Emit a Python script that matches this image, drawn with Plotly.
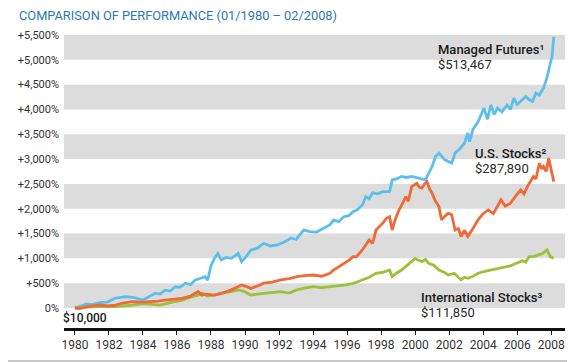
import plotly.graph_objects as go

# ---- data: decimal year, cumulative gain in % ----
mf_years = [1980.0, 1980.4, 1980.7, 1981.0, 1981.45, 1981.9, 1982.4, 1983.0, 1983.5, 1984.0,
            1984.4, 1984.75, 1985.0, 1985.3, 1985.6, 1985.9, 1986.2, 1986.5, 1986.8, 1987.07,
            1987.4, 1987.65, 1987.8, 1988.0, 1988.2, 1988.4, 1988.6, 1988.9, 1989.2, 1989.4,
            1989.6, 1989.8, 1990.1, 1990.35, 1990.7, 1991.1, 1991.5, 1991.9, 1992.3, 1992.7,
            1993.0, 1993.45, 1993.8, 1994.2, 1994.6, 1995.0, 1995.2, 1995.5, 1995.8, 1996.1,
            1996.35, 1996.6, 1996.9, 1997.1, 1997.3, 1997.5, 1997.8, 1998.1, 1998.5, 1998.65,
            1998.9, 1999.2, 1999.5, 1999.8, 2000.2, 2000.6, 2000.8, 2001.0, 2001.2, 2001.4,
            2001.75, 2002.15, 2002.35, 2002.6, 2002.9, 2003.1, 2003.2, 2003.4, 2003.7, 2004.05,
            2004.25, 2004.45, 2004.65, 2004.85, 2005.1, 2005.4, 2005.6, 2005.8, 2006.0, 2006.2,
            2006.5, 2006.7, 2006.9, 2007.1, 2007.3, 2007.55, 2007.75, 2007.95, 2008.05, 2008.15]
mf_values = [0, 40, 80, 70, 107, 120, 200, 228, 210, 160,
             230, 300, 280, 360, 340, 425, 420, 500, 470, 565,
             600, 630, 560, 850, 1000, 1100, 970, 1020, 1000, 1050,
             1100, 935, 1050, 1170, 1200, 1300, 1250, 1270, 1330, 1410,
             1380, 1570, 1540, 1530, 1600, 1680, 1770, 1740, 1840, 1860,
             1940, 1980, 2075, 2245, 2200, 2320, 2300, 2345, 2345, 2580,
             2600, 2650, 2630, 2650, 2615, 2580, 2715, 2850, 3050, 3120,
             2985, 2920, 3120, 3200, 3320, 3525, 3350, 3600, 3750, 4030,
             3800, 4090, 3900, 4030, 3950, 4090, 4000, 4230, 4100, 4160,
             4260, 4200, 4160, 4330, 4290, 4435, 4640, 4940, 5060, 5460]

us_years = [1980.0, 1980.3, 1980.7, 1981.0, 1981.5, 1981.9, 1982.4, 1982.8, 1983.4, 1983.9,
            1984.4, 1984.9, 1985.3, 1985.8, 1986.3, 1986.8, 1987.25, 1987.45, 1987.7, 1988.2,
            1988.7, 1989.2, 1989.8, 1990.1, 1990.35, 1990.7, 1991.1, 1991.6, 1992.1, 1992.6,
            1993.05, 1993.5, 1994.0, 1994.5, 1995.0, 1995.2, 1995.5, 1995.8, 1996.1, 1996.35,
            1996.55, 1996.9, 1997.3, 1997.5, 1997.7, 1998.1, 1998.3, 1998.5, 1998.65, 1998.85,
            1999.05, 1999.25, 1999.45, 1999.6, 1999.8, 2000.1, 2000.25, 2000.4, 2000.55, 2000.7,
            2000.85, 2001.0, 2001.2, 2001.4, 2001.55, 2001.75, 2001.95, 2002.15, 2002.35, 2002.55,
            2002.7, 2002.9, 2003.1, 2003.4, 2003.7, 2004.0, 2004.3, 2004.6, 2004.85, 2005.05,
            2005.3, 2005.6, 2005.9, 2006.2, 2006.4, 2006.6, 2006.95, 2007.1, 2007.3, 2007.45,
            2007.55, 2007.7, 2007.85, 2008.0, 2008.15]
us_values = [0, -10, 27, 40, 60, 40, 60, 100, 127, 120,
             127, 140, 160, 175, 195, 240, 330, 260, 280, 260,
             300, 365, 465, 430, 395, 440, 500, 520, 565, 590,
             630, 650, 665, 640, 700, 765, 830, 900, 960, 1035,
             1035, 1170, 1370, 1300, 1570, 1710, 1800, 1840, 1570, 1800,
             1975, 2100, 2245, 2150, 2445, 2515, 2430, 2415, 2500, 2545,
             2400, 2310, 2150, 2045, 1775, 1850, 1910, 1880, 1570, 1600,
             1440, 1570, 1440, 1600, 1775, 1900, 1975, 1900, 2045, 2180,
             2050, 2110, 2250, 2380, 2300, 2445, 2650, 2600, 2915, 2800,
             2850, 2750, 3020, 2780, 2545]

intl_years = [1980.0, 1980.7, 1981.5, 1982.4, 1983.4, 1984.0, 1984.4, 1985.0, 1985.6, 1986.3,
              1986.8, 1987.25, 1987.5, 1987.8, 1988.2, 1988.7, 1989.2, 1989.6, 1989.9, 1990.35,
              1990.7, 1991.1, 1991.6, 1992.1, 1992.6, 1993.05, 1993.5, 1994.0, 1994.5, 1995.0,
              1995.5, 1995.95, 1996.4, 1996.9, 1997.3, 1997.7, 1998.1, 1998.5, 1998.65, 1998.9,
              1999.2, 1999.6, 2000.0, 2000.2, 2000.4, 2000.6, 2000.8, 2001.1, 2001.4, 2001.7,
              2001.95, 2002.3, 2002.5, 2002.7, 2002.9, 2003.1, 2003.4, 2003.7, 2004.1, 2004.45,
              2004.8, 2005.2, 2005.6, 2005.95, 2006.3, 2006.5, 2006.7, 2007.0, 2007.3, 2007.5,
              2007.75, 2007.95, 2008.15]
intl_values = [0, 20, 27, 30, 60, 90, 80, 60, 110, 160,
               220, 260, 300, 240, 260, 310, 330, 365, 340, 260,
               280, 295, 310, 330, 300, 365, 400, 430, 410, 430,
               440, 465, 500, 565, 620, 700, 720, 765, 630, 700,
               765, 880, 1000, 960, 935, 980, 900, 860, 765, 720,
               665, 700, 640, 565, 620, 600, 640, 700, 740, 765,
               790, 830, 850, 900, 950, 920, 1035, 1040, 1070, 1100,
               1170, 1035, 1000]

x_ticks = list(range(1980, 2009, 2))
y_ticks = list(range(0, 5501, 500))
y_labels = ["0%"] + ["+{:,}%".format(v) for v in y_ticks[1:]]

title_text = "COMPARISON OF PERFORMANCE (01/1980 \u2013 02/2008)"

FONT = "Roboto"
OFF = 8  # page body margin of the html page
W, H = 575 - OFF, 362 - OFF
# plot area in page pixels: left 57, right 565, top 35, bottom 328
L = 57 - OFF
R = 575 - 565
T = 35 - OFF
B = 362 - 328
pw, ph = W - L - R, H - T - B


def px2paper(px, py):
    return (px - OFF - L) / pw, 1 - (py - OFF - T) / ph


fig = go.Figure()

# gray bands
for lo in range(0, 5500, 1000):
    fig.add_shape(type="rect", xref="paper", yref="y", x0=0, x1=1, y0=lo, y1=lo + 500,
                  fillcolor="#DCDCDC", line_width=0, layer="below")

fig.add_trace(go.Scatter(x=mf_years, y=mf_values, mode="lines",
                         line=dict(color="#5CBFEB", width=2.8), hoverinfo="skip"))
fig.add_trace(go.Scatter(x=intl_years, y=intl_values, mode="lines",
                         line=dict(color="#9DC03A", width=2.8), hoverinfo="skip"))
fig.add_trace(go.Scatter(x=us_years, y=us_values, mode="lines",
                         line=dict(color="#F06A38", width=2.8), hoverinfo="skip"))

name_font = dict(family=FONT, size=13, color="#1A1A1A", weight=500)
val_font = dict(family=FONT, size=13, color="#2A2A2A")
anns = [
    (434, 50, "Managed Futures\u00b9", name_font), (434, 65, "$513,467", val_font),
    (472, 153, "U.S. Stocks\u00b2", name_font), (472, 168, "$287,890", val_font),
    (417, 297, "International Stocks\u00b3", name_font), (417, 312, "$111,850", val_font),
    (54, 318, "$10,000", dict(family=FONT, size=12, color="#1A1A1A", weight=500)),
]
for px, py, txt, f in anns:
    ax, ay = px2paper(px, py)
    fig.add_annotation(x=ax, y=ay, xref="paper", yref="paper", text=txt, showarrow=False,
                       xanchor="left", yanchor="middle", font=f)

# title
tx, ty = px2paper(9, 15)
fig.add_annotation(x=tx, y=ty, xref="paper", yref="paper", text=title_text, showarrow=False,
                   xanchor="left", yanchor="middle",
                   font=dict(family=FONT, size=12.8, color="#2B78B5"))

# bottom thin gray rule
gx0, gy = px2paper(0, 361)
gx1, _ = px2paper(575, 361)
fig.add_shape(type="line", xref="paper", yref="paper", x0=gx0, x1=gx1, y0=gy, y1=gy,
              line=dict(color="#C8C8C8", width=2))

fig.update_layout(
    width=W, height=H,
    margin=dict(l=L, r=R, t=T, b=B, pad=0),
    paper_bgcolor="white", plot_bgcolor="white",
    showlegend=False,
    xaxis=dict(range=[1979.36, 2008.81], tickvals=x_ticks, ticktext=[str(v) for v in x_ticks],
               showgrid=False, zeroline=False, showline=True, linecolor="#111111", linewidth=2.5,
               ticks="outside", ticklen=4, tickwidth=1, tickcolor="#111111",
               tickfont=dict(family=FONT, size=12, color="#333333")),
    yaxis=dict(range=[-403, 5500], tickvals=y_ticks, ticktext=y_labels,
               showgrid=False, zeroline=False, showline=False, ticks="",
               ticklabelstandoff=4,
               tickfont=dict(family=FONT, size=11, color="#333333")),
)

fig.write_html("out.html")
